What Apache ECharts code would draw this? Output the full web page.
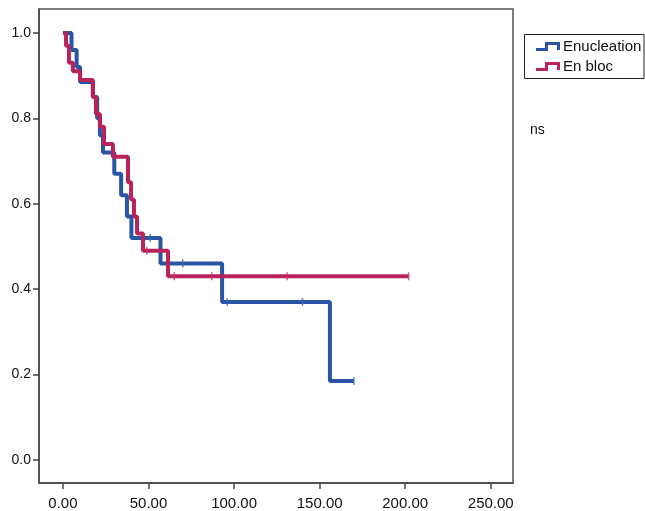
<!DOCTYPE html>
<html>
<head>
<meta charset="utf-8">
<script src="https://cdn.jsdelivr.net/npm/echarts@6/dist/echarts.min.js"></script>
<style>
html,body{margin:0;padding:0;background:#fff;}
#c{width:645px;height:511px;}
</style>
</head>
<body>
<div id="c"></div>
<script>
// ---- data ----
var seriesNames = ['Enucleation', 'En bloc'];
var enuTimes = [0, 5, 8, 10, 17.5, 20, 21.6, 23.4, 30, 34, 37.4, 40, 57, 93, 156, 170];
var enuSurv  = [1.0, 0.96, 0.92, 0.885, 0.85, 0.80, 0.76, 0.72, 0.67, 0.62, 0.57, 0.52, 0.46, 0.37, 0.185, 0.185];
var blocTimes = [0, 1.8, 3.5, 5.8, 10, 17.5, 19.3, 21.6, 24, 29.2, 38, 39.8, 41.5, 43.3, 46.8, 61.4, 202];
var blocSurv  = [1.0, 0.97, 0.93, 0.91, 0.89, 0.85, 0.81, 0.78, 0.74, 0.71, 0.65, 0.61, 0.57, 0.53, 0.49, 0.43, 0.43];
var enuCensT = [51, 70, 96, 140, 170];
var enuCensS = [0.52, 0.46, 0.37, 0.37, 0.185];
var blocCensT = [49, 65, 87, 131, 202];
var blocCensS = [0.49, 0.43, 0.43, 0.43, 0.43];
var xTicks = [0, 50, 100, 150, 200, 250];
var yTicks = [0, 0.2, 0.4, 0.6, 0.8, 1.0];
var noteText = 'ns';

function pairs(a, b) { return a.map(function (v, i) { return [v, b[i]]; }); }

var blue = '#2a55a5';
var red = '#b8235c';
var stepIcon = 'path://M0,6 L9,6 L9,0 L24,0 L24,8 L21,8 L21,3 L12,3 L12,9 L0,9 Z';
var font = '"Liberation Sans", Arial, sans-serif';

var chart = echarts.init(document.getElementById('c'), null, {renderer: 'canvas'});
chart.setOption({
  animation: false,
  backgroundColor: '#fff',
  grid: {left: 39, right: 132, top: 9, bottom: 28, show: true, borderColor: '#555', borderWidth: 1.5, backgroundColor: 'transparent'},
  xAxis: {
    type: 'value', min: -14, max: 263,
    splitLine: {show: false},
    axisLine: {show: true, onZero: false, lineStyle: {color: '#444', width: 1.5}},
    axisTick: {show: true, inside: false, customValues: xTicks, length: 6, lineStyle: {color: '#444', width: 1.5}},
    axisLabel: {customValues: xTicks, margin: 13, color: '#111', fontSize: 15, fontFamily: font,
      formatter: function (v) { return v.toFixed(2); }}
  },
  yAxis: {
    type: 'value', min: -0.054, max: 1.056,
    splitLine: {show: false},
    axisLine: {show: true, onZero: false, lineStyle: {color: '#444', width: 1.5}},
    axisTick: {show: true, inside: false, customValues: yTicks, length: 6, lineStyle: {color: '#444', width: 1.5}},
    axisLabel: {customValues: yTicks, margin: 8, color: '#111', fontSize: 14, fontFamily: font,
      formatter: function (v) { return v.toFixed(1); }}
  },
  legend: {
    left: 524, top: 36,
    orient: 'vertical',
    data: [
      {name: seriesNames[0], icon: stepIcon},
      {name: seriesNames[1], icon: stepIcon}
    ],
    itemWidth: 24, itemHeight: 10, itemGap: 3,
    padding: [2, 0, 4, 12],
    textStyle: {color: '#111', fontSize: 15, fontFamily: font, lineHeight: 17, padding: [0, 0, 0, -2]},
    selectedMode: false
  },
  graphic: [
    {type: 'rect', shape: {x: 524.5, y: 34.5, width: 119.5, height: 44}, style: {fill: 'none', stroke: '#222', lineWidth: 1}},
    {type: 'text', x: 530, y: 123, style: {text: noteText, fill: '#111', font: '14px ' + font}}
  ],
  series: [
    {name: seriesNames[0], type: 'line', step: 'end', data: pairs(enuTimes, enuSurv),
      showSymbol: false, symbol: 'none', lineStyle: {color: blue, width: 4}, itemStyle: {color: blue}, z: 2},
    {name: seriesNames[0], type: 'scatter', data: pairs(enuCensT, enuCensS),
      symbol: 'rect', symbolSize: [1.5, 8], itemStyle: {color: '#3a66b5'}, z: 3},
    {name: seriesNames[1], type: 'line', step: 'end', data: pairs(blocTimes, blocSurv),
      showSymbol: false, symbol: 'none', lineStyle: {color: red, width: 4}, itemStyle: {color: red}, z: 4},
    {name: seriesNames[1], type: 'scatter', data: pairs(blocCensT, blocCensS),
      symbol: 'rect', symbolSize: [1.5, 8], itemStyle: {color: '#c8346c'}, z: 5}
  ]
});
</script>
</body>
</html>
